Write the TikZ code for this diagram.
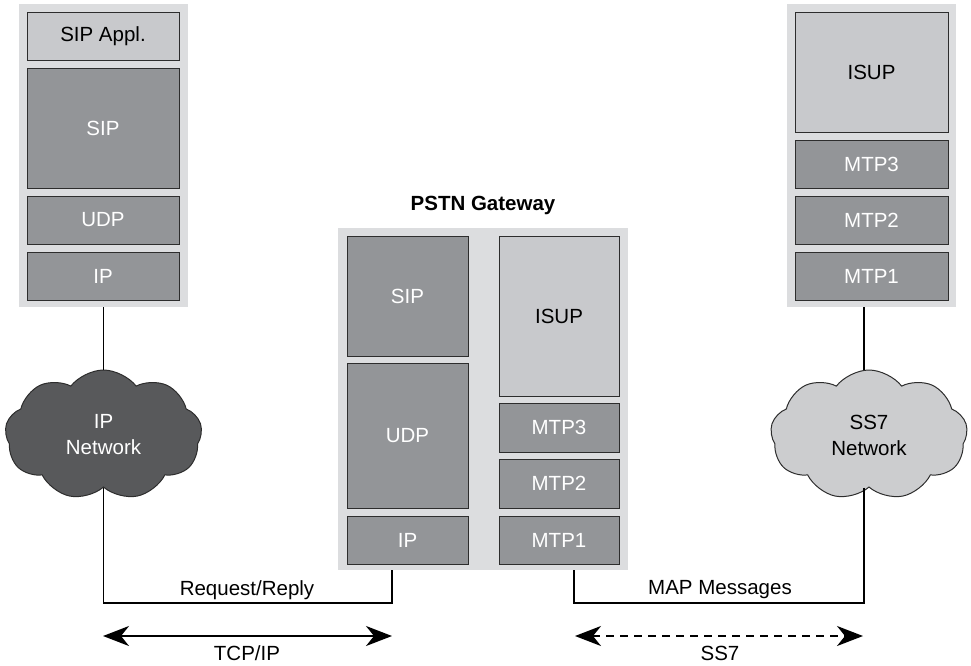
\documentclass[tikz,border=0pt]{standalone}
\usepackage{fontspec}
\setmainfont{Liberation Sans}
\usetikzlibrary{shapes.symbols,arrows.meta}
\definecolor{bgGray}{RGB}{220,221,223}
\definecolor{darkBox}{RGB}{147,149,152}
\definecolor{lightBox}{RGB}{200,201,204}
\definecolor{darkCloud}{RGB}{88,89,91}
\definecolor{lightCloud}{RGB}{204,205,207}
\definecolor{edgeCol}{RGB}{45,45,45}
\tikzset{
  stackbg/.style={fill=bgGray, draw=none, inner sep=0pt},
  dkbox/.style={fill=darkBox, draw=edgeCol, line width=1pt, text=white, inner sep=0pt,
     font=\fontsize{20.5}{24}\selectfont},
  ltbox/.style={fill=lightBox, draw=edgeCol, line width=1pt, text=black, inner sep=0pt,
     font=\fontsize{20.5}{24}\selectfont},
  netcloud/.style={cloud, cloud puffs=9, cloud puff arc=105, aspect=1.5, draw=edgeCol,
     line width=1pt, minimum width=197pt, minimum height=130pt, inner sep=0pt, align=center,
     font=\fontsize{20.5}{26}\selectfont},
  conn/.style={line width=1.8pt, draw=black},
  lbl/.style={font=\fontsize{20.5}{24}\selectfont, inner sep=0pt},
  dblarrow/.style={line width=2pt, {Stealth[length=26pt,width=20pt,inset=8pt]}-{Stealth[length=26pt,width=20pt,inset=8pt]}}
}
\begin{document}
\begin{tikzpicture}[x=1pt,y=-1pt]
\useasboundingbox (0,0) rectangle (971,665);
% left stack
\node[stackbg, minimum width=169pt, minimum height=303pt] (lstack) at (103.5,155.5) {};
\node[ltbox, minimum width=152pt, minimum height=48pt] (lappl) at (103,36) {SIP Appl.};
\node[dkbox, minimum width=152pt, minimum height=120pt] (lsip) at (103,128) {SIP};
\node[dkbox, minimum width=152pt, minimum height=48pt] (ludp) at (103,220) {UDP};
\node[dkbox, minimum width=152pt, minimum height=48pt] (lip) at (103,276) {IP};
% right stack
\node[stackbg, minimum width=169pt, minimum height=303pt] (rstack) at (871.5,155.5) {};
\node[ltbox, minimum width=153pt, minimum height=120pt] (risup) at (871.5,72) {ISUP};
\node[dkbox, minimum width=153pt, minimum height=48pt] (rmtp3) at (871.5,164) {MTP3};
\node[dkbox, minimum width=153pt, minimum height=48pt] (rmtp2) at (871.5,220) {MTP2};
\node[dkbox, minimum width=153pt, minimum height=48pt] (rmtp1) at (871.5,276) {MTP1};
% gateway
\node[font=\bfseries\fontsize{20.5}{24}\selectfont, inner sep=0pt] (gwtitle) at (483,205) {PSTN Gateway};
\node[stackbg, minimum width=290pt, minimum height=342pt] (gw) at (483,399) {};
\node[dkbox, minimum width=121pt, minimum height=120pt] (gsip) at (407.5,296) {SIP};
\node[dkbox, minimum width=121pt, minimum height=145pt] (gudp) at (407.5,435.5) {UDP};
\node[dkbox, minimum width=121pt, minimum height=48pt] (gip) at (407.5,540) {IP};
\node[ltbox, minimum width=120pt, minimum height=160pt] (gisup) at (559,316) {ISUP};
\node[dkbox, minimum width=120pt, minimum height=49pt] (gmtp3) at (559,427.5) {MTP3};
\node[dkbox, minimum width=120pt, minimum height=49pt] (gmtp2) at (559,483.5) {MTP2};
\node[dkbox, minimum width=120pt, minimum height=48pt] (gmtp1) at (559,540) {MTP1};
% clouds
\node[netcloud, fill=darkCloud, text=white] (ipnet) at (103.5,435) {IP\\Network};
\node[netcloud, fill=lightCloud, text=black] (ss7net) at (869,435) {SS7\\Network};
% connectors
\coordinate (lsb) at (lstack.south);
\coordinate (rsb) at (864,307);
\draw[conn] (lsb) -- (ipnet.north);
\draw[conn] (rsb) -- (rsb |- ss7net.north);
\coordinate (gwL) at (392,570);
\coordinate (gwR) at (574,570);
\coordinate (cornL) at (392,603);
\coordinate (cornR) at (574,603);
\draw[conn] (ipnet.south) |- (cornL) -- (gwL);
\draw[conn] (rsb |- ss7net.south) |- (cornR) -- (gwR);
\node[lbl] (rr) at (247,590) {Request/Reply};
\node[lbl] (mm) at (720,590) {MAP Messages};
% arrows
\coordinate (a1) at (103,636);
\coordinate (a2) at (392,636);
\coordinate (b1) at (575,636);
\coordinate (b2) at (863,636);
\draw[dblarrow] (a1) -- (a2);
\draw[dblarrow, dash pattern=on 8pt off 6pt] (b1) -- (b2);
\node[lbl] (tcp) at (247,653) {TCP/IP};
\node[lbl] (ss7) at (720,653) {SS7};
\end{tikzpicture}
\end{document}
